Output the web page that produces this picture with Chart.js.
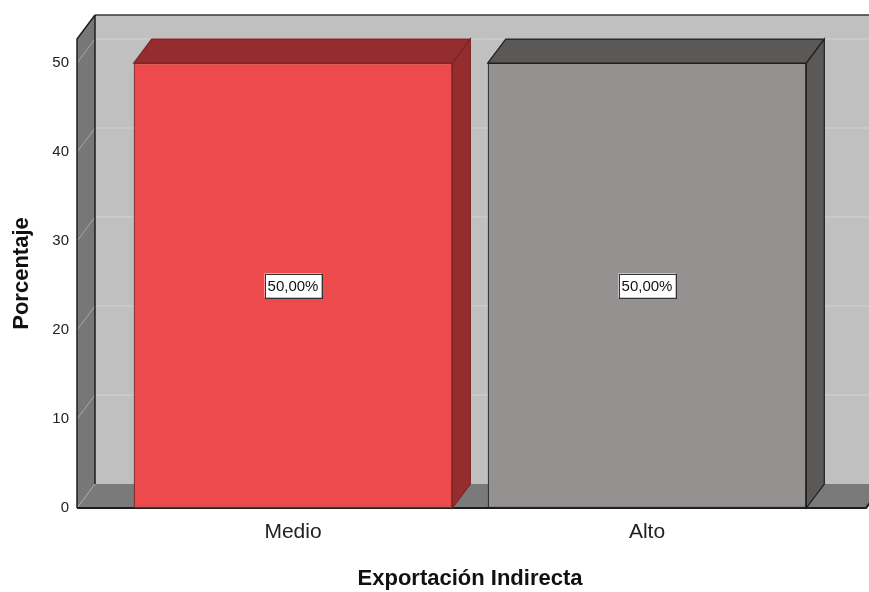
<!DOCTYPE html>
<html>
<head>
<meta charset="utf-8">
<script src="https://cdn.jsdelivr.net/npm/chart.js@4/dist/chart.umd.min.js"></script>
<style>
  html, body { margin: 0; padding: 0; background: #fff; }
  #wrap { width: 869px; height: 592px; }
</style>
</head>
<body>
<div id="wrap"><canvas id="chart" width="869" height="592"></canvas></div>
<script>
/* ─── Datos ───────────────────────────────────────────────────────────── */
const categorias = ['Medio', 'Alto'];
const porcentajes = [50, 50];
const yTicks = [0, 10, 20, 30, 40, 50];

/* ─── Estilo ──────────────────────────────────────────────────────────── */
const FRONT = ['#ED4A4D', '#959190'];
const SHADE = ['#952C2E', '#5A5957'];
const EDGE  = ['#7E2426', '#1E1E1E'];
const DX = 18, DY = -24;          // profundidad 3D
const WALL_L = 39, WALL_R = 42;   // margen de las paredes respecto al área de categorías
const FONT = '"Liberation Sans", Arial, sans-serif';

function poly(ctx, pts, fill, stroke, lw) {
  ctx.beginPath();
  ctx.moveTo(pts[0][0], pts[0][1]);
  for (let i = 1; i < pts.length; i++) ctx.lineTo(pts[i][0], pts[i][1]);
  ctx.closePath();
  if (fill) { ctx.fillStyle = fill; ctx.fill(); }
  if (stroke) { ctx.strokeStyle = stroke; ctx.lineWidth = lw || 1; ctx.stroke(); }
}

// Paredes, suelo, rejilla y caras ocultas de las barras
const escena3D = {
  id: 'escena3D',
  beforeDatasetsDraw(chart) {
    const { ctx, chartArea: a, scales: { y } } = chart;
    const xL = a.left - WALL_L, xR = a.right + WALL_R;
    const yT = a.top, yB = a.bottom;
    ctx.save();

    // pared del fondo
    poly(ctx, [[xL + DX, yT + DY], [xR + DX, yT + DY], [xR + DX, yB + DY], [xL + DX, yB + DY]], '#C0C0C0');
    ctx.strokeStyle = '#3A3A3A'; ctx.lineWidth = 1.5;
    ctx.beginPath(); ctx.moveTo(xL + DX, yT + DY); ctx.lineTo(xR + DX + 20, yT + DY); ctx.stroke();

    // pared izquierda
    poly(ctx, [[xL, yB], [xL, yT], [xL + DX, yT + DY], [xL + DX, yB + DY]], '#777777');

    // suelo
    poly(ctx, [[xL, yB], [xL + DX, yB + DY], [xR + DX, yB + DY], [xR, yB]], '#7A7A7A');

    // rejilla
    yTicks.forEach(v => {
      const py = y.getPixelForValue(v);
      ctx.lineWidth = 1;
      if (v > 0) {
        ctx.strokeStyle = '#D2D2D2';
        ctx.beginPath(); ctx.moveTo(xL + DX, py + DY); ctx.lineTo(xR + DX, py + DY); ctx.stroke();
      }
      ctx.strokeStyle = '#A8A8A8';
      ctx.beginPath(); ctx.moveTo(xL, py); ctx.lineTo(xL + DX, py + DY); ctx.stroke();
    });

    // aristas oscuras
    ctx.strokeStyle = '#1E1E1E'; ctx.lineWidth = 1.5;
    ctx.beginPath();
    ctx.moveTo(xL, yB); ctx.lineTo(xL, yT); ctx.lineTo(xL + DX, yT + DY);
    ctx.moveTo(xL + DX, yT + DY); ctx.lineTo(xL + DX, yB + DY);
    ctx.stroke();
    ctx.lineWidth = 2;
    ctx.beginPath(); ctx.moveTo(xL, yB); ctx.lineTo(xR, yB); ctx.lineTo(xR + DX, yB + DY); ctx.stroke();

    // caras superior y lateral de las barras
    const meta = chart.getDatasetMeta(0);
    meta.data.forEach((bar, i) => {
      const p = bar.getProps(['x', 'y', 'base', 'width'], true);
      const l = p.x - p.width / 2, r = p.x + p.width / 2;
      poly(ctx, [[l, p.y], [l + DX, p.y + DY], [r + DX, p.y + DY], [r, p.y]], SHADE[i], EDGE[i], 1.2);
      poly(ctx, [[r, p.y], [r + DX, p.y + DY], [r + DX, p.base + DY], [r, p.base]], SHADE[i], EDGE[i], 1.2);
    });
    ctx.restore();
  },
  afterDatasetsDraw(chart) {
    const { ctx, scales: { y } } = chart;
    const meta = chart.getDatasetMeta(0);
    ctx.save();
    ctx.font = '15px ' + FONT;
    ctx.textAlign = 'center';
    ctx.textBaseline = 'middle';
    meta.data.forEach((bar, i) => {
      const v = porcentajes[i];
      const txt = v.toFixed(2).replace('.', ',') + '%';
      const cy = y.getPixelForValue(v / 2);
      const w = ctx.measureText(txt).width + 6, h = 24;
      ctx.fillStyle = '#FFFFFF';
      ctx.fillRect(bar.x - w / 2, cy - h / 2, w, h);
      ctx.strokeStyle = '#333333'; ctx.lineWidth = 1;
      ctx.strokeRect(Math.round(bar.x - w / 2) + 0.5, Math.round(cy - h / 2) + 0.5, Math.round(w), h);
      ctx.fillStyle = '#111111';
      ctx.fillText(txt, bar.x, cy + 1);
    });
    ctx.restore();
  }
};

new Chart(document.getElementById('chart'), {
  type: 'bar',
  data: {
    labels: categorias,
    datasets: [{
      data: porcentajes,
      backgroundColor: FRONT,
      borderColor: EDGE,
      borderWidth: 1.2,
      borderSkipped: false,
      barPercentage: 0.9,
      categoryPercentage: 1.0,
    }]
  },
  options: {
    responsive: false,
    animation: false,
    devicePixelRatio: 1,
    layout: { padding: { top: 39, right: 45, left: 0, bottom: 0 } },
    plugins: { legend: { display: false }, tooltip: { enabled: false } },
    scales: {
      x: {
        grid: { display: false },
        border: { display: false },
        ticks: { color: '#222', padding: 4, font: { family: FONT, size: 21 } },
        title: {
          display: true,
          text: 'Exportación Indirecta',
          color: '#111',
          padding: { top: 0, bottom: 0 },
          font: { family: FONT, size: 22, weight: 'bold' }
        },
        afterFit: s => { s.height = 84; }
      },
      y: {
        min: 0,
        max: 52.7,
        grid: { display: false },
        border: { display: false },
        ticks: { stepSize: 10, color: '#222', padding: 39, font: { family: FONT, size: 15 } },
        afterBuildTicks: s => { s.ticks = yTicks.map(v => ({ value: v })); },
        title: {
          display: true,
          text: 'Porcentaje',
          color: '#111',
          padding: { top: 9, bottom: 0 },
          font: { family: FONT, size: 22, weight: 'bold' }
        },
        afterFit: s => { s.width = 116; s.paddingTop = 0; s.paddingBottom = 0; }
      }
    }
  },
  plugins: [escena3D]
});
</script>
</body>
</html>
